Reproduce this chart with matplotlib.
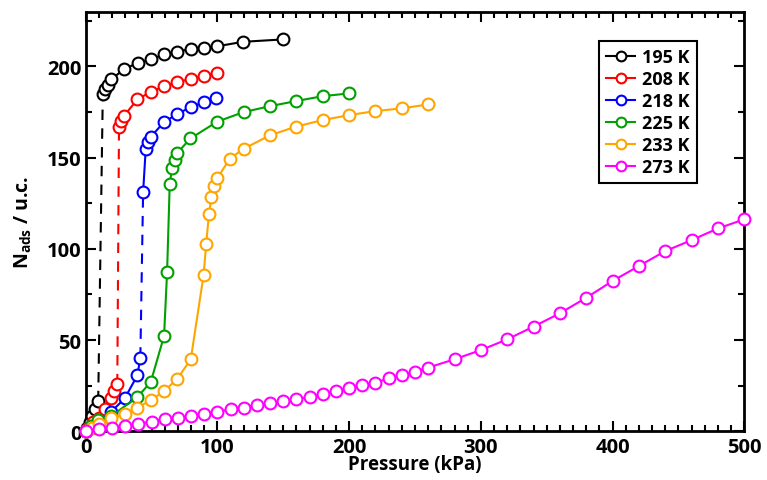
import matplotlib
matplotlib.use('Agg')
import matplotlib.pyplot as plt
from matplotlib.ticker import MultipleLocator

# data ----------------------------------------->
# 195 K : low branch, jump (dashed), high branch
p195_lo = [0, 1, 3, 5, 7, 9.5]
n195_lo = [0, 2, 5, 8.5, 12, 16.5]
p195_hi = [13, 15, 17, 19.5, 29, 39.5, 49.5, 59.5, 69.7, 79.8, 90, 99.5, 119.5, 149.7]
n195_hi = [184.7, 187.4, 190, 193, 198.4, 202, 203.8, 206.6, 208, 209.7, 210.2, 211, 213.5, 214.8]

# 208 K
p208_lo = [0, 2, 5.5, 10, 14.5, 19.5, 21.5, 24]
n208_lo = [0, 2, 5, 7.5, 12, 18, 22, 25.8]
p208_hi = [25.3, 27, 29, 39.3, 49.4, 59.5, 69.7, 79.8, 89.9, 100]
n208_hi = [166.7, 170, 172.8, 182, 186, 189.2, 191.4, 193.2, 195, 196.5]

# 218 K
p218_lo = [0, 5, 10, 19.5, 29.6, 39.3, 41.5]
n218_lo = [0, 2.5, 5.1, 10.8, 18, 30.7, 40.4]
p218_hi = [43.6, 45.6, 47.4, 49.4, 59.5, 69.7, 79.8, 89.9, 99.3]
n218_hi = [131, 154.9, 158.5, 161.4, 169.5, 174, 177.7, 180.4, 182.5]

# 225 K
p225 = [0, 4.3, 9.3, 19.5, 39.3, 49.4, 59.5, 61.8, 63.8, 65.6, 67.6, 69.7, 79.5,
        99.8, 120, 139.8, 159.6, 179.9, 199.8]
n225 = [0, 2.9, 6, 8.4, 18.8, 27, 52.2, 87.2, 135.3, 144.5, 148.7, 152.7, 160.5,
        169.7, 175, 178.2, 181, 183.7, 185.2]

# 233 K
p233 = [0, 5, 10, 19.5, 29.6, 39.3, 49.4, 59.5, 69.7, 79.8, 89.5, 91.5, 93.6, 95.5,
        97.5, 99.8, 109.4, 120, 139.8, 159.6, 179.9, 199.8, 219.6, 239.9, 260.1]
n233 = [0, 2, 4, 7.5, 9.3, 13, 17, 22, 28.9, 39.5, 85.6, 102.7, 119.2, 128.6,
        134.4, 138.6, 149.4, 154.9, 162.2, 167, 170.6, 173.3, 175.5, 177, 179.2]

# 273 K
p273 = [0, 10, 20, 30, 40, 50, 60, 70, 80, 90, 100, 110, 120, 130, 140, 150, 160,
        170, 180, 190, 200, 210, 220, 230, 240, 250, 260,
        280, 300, 320, 340, 360, 380, 400, 420, 440, 460, 480, 500]
n273 = [0, 1.1, 2, 2.9, 4.2, 5.3, 6.6, 7.1, 8.4, 9.7, 10.8, 12, 13, 14.2, 15.3, 16.6,
        17.5, 19, 20.3, 22, 23.6, 25.2, 26.7, 29, 30.8, 32.7, 34.9,
        39.5, 44.5, 50.4, 57.4, 64.7, 73.2, 82.4, 90.6, 98.8, 104.8, 111.2, 116.2]

# style ------------------>
plt.rcParams['font.family'] = ['Open Sans', 'DejaVu Sans']
plt.rcParams['font.weight'] = 'bold'
plt.rcParams['mathtext.fontset'] = 'custom'
plt.rcParams['mathtext.rm'] = 'Open Sans:bold'
plt.rcParams['mathtext.it'] = 'Open Sans:bold'
plt.rcParams['mathtext.bf'] = 'Open Sans:bold'

mk = dict(marker='o', markersize=8.5, markerfacecolor='white', markeredgewidth=1.5,
          linewidth=1.5, clip_on=False)

fig = plt.figure(figsize=(7.67, 4.81), dpi=100)
ax = fig.add_axes([0.1117, 0.1012, 0.8587, 0.8724])

# jumps drawn dashed between the two branches
for plo, nlo, phi, nhi, c in [(p195_lo, n195_lo, p195_hi, n195_hi, 'black'),
                              (p208_lo, n208_lo, p208_hi, n208_hi, 'red'),
                              (p218_lo, n218_lo, p218_hi, n218_hi, 'blue')]:
    ax.plot([plo[-1], phi[0]], [nlo[-1], nhi[0]], '--', color=c, linewidth=1.5,
            dashes=(5, 4))

ax.plot(p195_lo, n195_lo, color='black', zorder=3, **mk)
ax.plot(p195_hi, n195_hi, color='black', label='195 K', zorder=3, **mk)
ax.plot(p208_lo, n208_lo, color='red', zorder=3, **mk)
ax.plot(p208_hi, n208_hi, color='red', label='208 K', zorder=3, **mk)
ax.plot(p218_lo, n218_lo, color='blue', zorder=3, **mk)
ax.plot(p218_hi, n218_hi, color='blue', label='218 K', zorder=3, **mk)
ax.plot(p225, n225, color='#00a000', label='225 K', zorder=3, **mk)
ax.plot(p233, n233, color='#ffa500', label='233 K', zorder=3, **mk)
ax.plot(p273, n273, color='magenta', label='273 K', zorder=3, **mk)

ax.set_xlim(0, 500)
ax.set_ylim(0, 230)
ax.xaxis.set_major_locator(MultipleLocator(100))
ax.xaxis.set_minor_locator(MultipleLocator(10))
ax.yaxis.set_major_locator(MultipleLocator(50))
ax.yaxis.set_minor_locator(MultipleLocator(25))
ax.tick_params(which='both', direction='in', top=True, right=True, width=1.5,
               labelsize=14.5)
ax.tick_params(axis='x', pad=4)
ax.tick_params(axis='y', pad=3)
ax.tick_params(which='major', length=7)
ax.tick_params(which='minor', length=4)
for s in ax.spines.values():
    s.set_linewidth(2)

ax.set_xlabel('Pressure (kPa)', fontsize=13.5, fontweight='bold', labelpad=-2)
ax.set_ylabel(r'N$_{\rm ads}$ / u.c.', fontsize=14, fontweight='bold', labelpad=9)

leg = ax.legend(loc='upper right', bbox_to_anchor=(0.942, 0.952), fontsize=13,
                handlelength=1.6, handletextpad=0.4, labelspacing=0.22,
                borderpad=0.4, fancybox=False, framealpha=1, edgecolor='black')
leg.get_frame().set_linewidth(1.5)
for h in leg.legend_handles:
    h.set_markersize(7)

fig.savefig('out.png', dpi=100)
